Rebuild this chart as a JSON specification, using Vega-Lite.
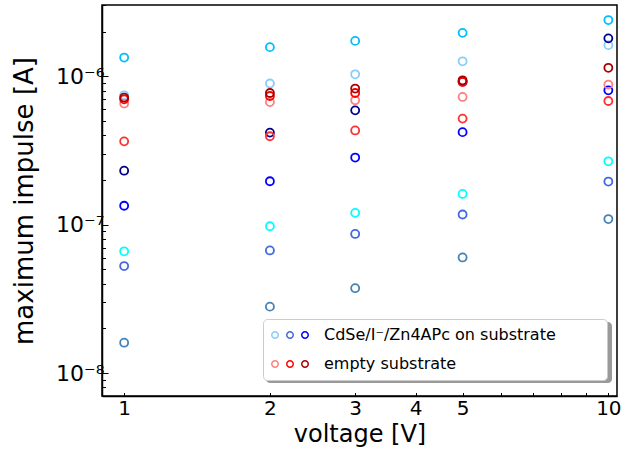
{
  "$schema": "https://vega.github.io/schema/vega-lite/v6.json",
  "width": 515,
  "height": 391,
  "autosize": {"type": "none"},
  "padding": {"left": 102, "top": 5, "right": 4, "bottom": 56},
  "background": "white",
  "config": {
    "font": "DejaVu Sans",
    "view": {"stroke": "black", "strokeWidth": 1.5},
    "axis": {"domainColor": "black", "domainWidth": 1.5, "tickColor": "black", "tickWidth": 1, "labelColor": "black", "titleColor": "black", "grid": false, "labelFont": "DejaVu Sans", "titleFont": "DejaVu Sans", "titleFontWeight": "normal"}
  },
  "data": {
    "values": [
      {"v": 1, "I": 1.336e-6, "s": "deepskyblue", "g": "CdSe/I⁻/Zn4APc on substrate"},
      {"v": 2, "I": 1.57e-6, "s": "deepskyblue", "g": "CdSe/I⁻/Zn4APc on substrate"},
      {"v": 3, "I": 1.73e-6, "s": "deepskyblue", "g": "CdSe/I⁻/Zn4APc on substrate"},
      {"v": 5, "I": 1.96e-6, "s": "deepskyblue", "g": "CdSe/I⁻/Zn4APc on substrate"},
      {"v": 10, "I": 2.39e-6, "s": "deepskyblue", "g": "CdSe/I⁻/Zn4APc on substrate"},
      {"v": 1, "I": 7.44e-7, "s": "lightskyblue", "g": "CdSe/I⁻/Zn4APc on substrate"},
      {"v": 2, "I": 8.93e-7, "s": "lightskyblue", "g": "CdSe/I⁻/Zn4APc on substrate"},
      {"v": 3, "I": 1.03e-6, "s": "lightskyblue", "g": "CdSe/I⁻/Zn4APc on substrate"},
      {"v": 5, "I": 1.26e-6, "s": "lightskyblue", "g": "CdSe/I⁻/Zn4APc on substrate"},
      {"v": 10, "I": 1.62e-6, "s": "lightskyblue", "g": "CdSe/I⁻/Zn4APc on substrate"},
      {"v": 1, "I": 2.31e-7, "s": "navy", "g": "CdSe/I⁻/Zn4APc on substrate"},
      {"v": 2, "I": 4.17e-7, "s": "navy", "g": "CdSe/I⁻/Zn4APc on substrate"},
      {"v": 3, "I": 5.89e-7, "s": "navy", "g": "CdSe/I⁻/Zn4APc on substrate"},
      {"v": 5, "I": 9.2e-7, "s": "navy", "g": "CdSe/I⁻/Zn4APc on substrate"},
      {"v": 10, "I": 1.80e-6, "s": "navy", "g": "CdSe/I⁻/Zn4APc on substrate"},
      {"v": 1, "I": 1.34e-7, "s": "blue", "g": "CdSe/I⁻/Zn4APc on substrate"},
      {"v": 2, "I": 1.96e-7, "s": "blue", "g": "CdSe/I⁻/Zn4APc on substrate"},
      {"v": 3, "I": 2.83e-7, "s": "blue", "g": "CdSe/I⁻/Zn4APc on substrate"},
      {"v": 5, "I": 4.20e-7, "s": "blue", "g": "CdSe/I⁻/Zn4APc on substrate"},
      {"v": 10, "I": 8.04e-7, "s": "blue", "g": "CdSe/I⁻/Zn4APc on substrate"},
      {"v": 1, "I": 6.61e-8, "s": "cyan", "g": "CdSe/I⁻/Zn4APc on substrate"},
      {"v": 2, "I": 9.75e-8, "s": "cyan", "g": "CdSe/I⁻/Zn4APc on substrate"},
      {"v": 3, "I": 1.20e-7, "s": "cyan", "g": "CdSe/I⁻/Zn4APc on substrate"},
      {"v": 5, "I": 1.61e-7, "s": "cyan", "g": "CdSe/I⁻/Zn4APc on substrate"},
      {"v": 10, "I": 2.67e-7, "s": "cyan", "g": "CdSe/I⁻/Zn4APc on substrate"},
      {"v": 1, "I": 5.26e-8, "s": "royalblue", "g": "CdSe/I⁻/Zn4APc on substrate"},
      {"v": 2, "I": 6.70e-8, "s": "royalblue", "g": "CdSe/I⁻/Zn4APc on substrate"},
      {"v": 3, "I": 8.65e-8, "s": "royalblue", "g": "CdSe/I⁻/Zn4APc on substrate"},
      {"v": 5, "I": 1.17e-7, "s": "royalblue", "g": "CdSe/I⁻/Zn4APc on substrate"},
      {"v": 10, "I": 1.95e-7, "s": "royalblue", "g": "CdSe/I⁻/Zn4APc on substrate"},
      {"v": 1, "I": 1.60e-8, "s": "steelblue", "g": "CdSe/I⁻/Zn4APc on substrate"},
      {"v": 2, "I": 2.80e-8, "s": "steelblue", "g": "CdSe/I⁻/Zn4APc on substrate"},
      {"v": 3, "I": 3.73e-8, "s": "steelblue", "g": "CdSe/I⁻/Zn4APc on substrate"},
      {"v": 5, "I": 6.01e-8, "s": "steelblue", "g": "CdSe/I⁻/Zn4APc on substrate"},
      {"v": 10, "I": 1.09e-7, "s": "steelblue", "g": "CdSe/I⁻/Zn4APc on substrate"},
      {"v": 1, "I": 6.54e-7, "s": "lightred", "g": "empty substrate"},
      {"v": 2, "I": 6.70e-7, "s": "lightred", "g": "empty substrate"},
      {"v": 3, "I": 6.89e-7, "s": "lightred", "g": "empty substrate"},
      {"v": 5, "I": 7.25e-7, "s": "lightred", "g": "empty substrate"},
      {"v": 10, "I": 8.79e-7, "s": "lightred", "g": "empty substrate"},
      {"v": 1, "I": 3.64e-7, "s": "red2", "g": "empty substrate"},
      {"v": 2, "I": 3.94e-7, "s": "red2", "g": "empty substrate"},
      {"v": 3, "I": 4.31e-7, "s": "red2", "g": "empty substrate"},
      {"v": 5, "I": 5.18e-7, "s": "red2", "g": "empty substrate"},
      {"v": 10, "I": 6.81e-7, "s": "red2", "g": "empty substrate"},
      {"v": 1, "I": 6.99e-7, "s": "red", "g": "empty substrate"},
      {"v": 2, "I": 7.36e-7, "s": "red", "g": "empty substrate"},
      {"v": 3, "I": 7.71e-7, "s": "red", "g": "empty substrate"},
      {"v": 5, "I": 9.15e-7, "s": "red", "g": "empty substrate"},
      {"v": 1, "I": 7.18e-7, "s": "darkred", "g": "empty substrate"},
      {"v": 2, "I": 7.71e-7, "s": "darkred", "g": "empty substrate"},
      {"v": 3, "I": 8.26e-7, "s": "darkred", "g": "empty substrate"},
      {"v": 5, "I": 9.39e-7, "s": "darkred", "g": "empty substrate"},
      {"v": 10, "I": 1.14e-6, "s": "darkred", "g": "empty substrate"}
    ]
  },
  "layer": [
    {
      "mark": {"type": "point", "filled": false, "size": 64, "strokeWidth": 1.8, "opacity": 1},
      "encoding": {
        "x": {"field": "v", "type": "quantitative",
          "scale": {"type": "log", "domain": [0.9, 10.42], "nice": false, "zero": false},
          "axis": {"values": [1, 2, 3, 4, 5, 6, 7, 8, 9, 10], "labelExpr": "(datum.value <= 5 || datum.value >= 10) ? toString(datum.value) : ''", "labelOverlap": false, "labelFlush": false, "labelFontSize": 20, "labelPadding": 6, "tickSize": -3.5, "title": "voltage [V]", "titleFontSize": 24, "titlePadding": 4}},
        "y": {"field": "I", "type": "quantitative",
          "scale": {"type": "log", "domain": [7.0e-9, 3.02e-6], "nice": false, "zero": false},
          "axis": {"orient": "left", "values": [1e-8, 1e-7, 1e-6], "labelExpr": "'10' + (datum.value > 5e-7 ? '⁻⁶' : (datum.value > 5e-8 ? '⁻⁷' : '⁻⁸'))", "labelOverlap": false, "labelFlush": false, "labelFontSize": 22, "labelPadding": 4, "tickSize": -6, "title": "maximum impulse [A]", "titleFontSize": 26, "titlePadding": 18}},
        "color": {"field": "s", "type": "nominal",
          "scale": {"domain": ["deepskyblue", "lightskyblue", "navy", "blue", "cyan", "royalblue", "steelblue", "lightred", "red2", "red", "darkred"],
                    "range": ["#00bfff", "#87cefa", "#00008b", "#0000ff", "#00ffff", "#4169e1", "#4682b4", "#ff7f7f", "#ff3030", "#ff0000", "#a80000"]},
          "legend": null}
      }
    },
    {
      "transform": [{"filter": "false"}],
      "mark": {"type": "point", "filled": false, "opacity": 1},
      "encoding": {
        "y": {"field": "I", "type": "quantitative",
          "axis": {"orient": "left", "values": [8e-9, 9e-9, 2e-8, 3e-8, 4e-8, 5e-8, 6e-8, 7e-8, 8e-8, 9e-8, 2e-7, 3e-7, 4e-7, 5e-7, 6e-7, 7e-7, 8e-7, 9e-7, 2e-6, 3e-6], "labels": false, "domain": false, "title": null, "tickSize": -3.5}}
      }
    },
    {
      "transform": [{"filter": "false"}],
      "mark": {"type": "point", "filled": false, "opacity": 1},
      "encoding": {
        "color": {"field": "g", "type": "nominal",
          "scale": {"domain": ["CdSe/I⁻/Zn4APc on substrate", "empty substrate"], "range": ["#87cefa", "#ff7f7f"]},
          "legend": {"title": "\u00a0", "titleOrient": "right", "titlePadding": 318, "titleFontSize": 16, "orient": "none", "legendX": 164, "legendY": 317, "padding": 8, "fillColor": "#9a9a9a", "cornerRadius": 4, "symbolType": "circle", "symbolSize": 42, "symbolStrokeWidth": 1.5, "symbolOpacity": 0, "symbolOffset": -4, "labelFontSize": 16, "labelExpr": "''", "labelOffset": 0, "rowPadding": 13, "labelLimit": 500}}
      }
    },
    {
      "transform": [{"filter": "false"}],
      "mark": {"type": "point", "filled": false, "opacity": 1},
      "encoding": {
        "color": {"field": "g", "type": "nominal",
          "scale": {"domain": ["CdSe/I⁻/Zn4APc on substrate", "empty substrate"], "range": ["#87cefa", "#ff7f7f"]},
          "legend": {"title": "\u00a0", "titleOrient": "right", "titlePadding": 43, "titleFontSize": 16, "orient": "none", "legendX": 161, "legendY": 314, "padding": 8, "fillColor": "white", "strokeColor": "#cccccc", "cornerRadius": 4, "symbolType": "circle", "symbolSize": 42, "symbolStrokeWidth": 1.5, "symbolOffset": -4, "labelFontSize": 16, "labelColor": "black", "labelOffset": 41, "rowPadding": 13, "labelLimit": 500}}
      }
    },
    {
      "transform": [{"filter": "false"}],
      "mark": {"type": "point", "filled": false, "opacity": 1},
      "encoding": {
        "color": {"field": "g", "type": "nominal",
          "scale": {"domain": ["CdSe/I⁻/Zn4APc on substrate", "empty substrate"], "range": ["#4169e1", "#ff0000"]},
          "legend": {"title": null, "orient": "none", "legendX": 176, "legendY": 314, "padding": 8, "symbolType": "circle", "symbolSize": 42, "symbolStrokeWidth": 1.5, "symbolOffset": -4, "labelFontSize": 16, "labelExpr": "''", "labelOffset": 0, "rowPadding": 13, "labelLimit": 500}}
      }
    },
    {
      "transform": [{"filter": "false"}],
      "mark": {"type": "point", "filled": false, "opacity": 1},
      "encoding": {
        "color": {"field": "g", "type": "nominal",
          "scale": {"domain": ["CdSe/I⁻/Zn4APc on substrate", "empty substrate"], "range": ["#0000ff", "#a80000"]},
          "legend": {"title": null, "orient": "none", "legendX": 191, "legendY": 314, "padding": 8, "symbolType": "circle", "symbolSize": 42, "symbolStrokeWidth": 1.5, "symbolOffset": -4, "labelFontSize": 16, "labelExpr": "''", "labelOffset": 0, "rowPadding": 13, "labelLimit": 500}}
      }
    }
  ],
  "resolve": {"scale": {"color": "independent"}, "legend": {"color": "independent"}, "axis": {"y": "independent"}}
}
